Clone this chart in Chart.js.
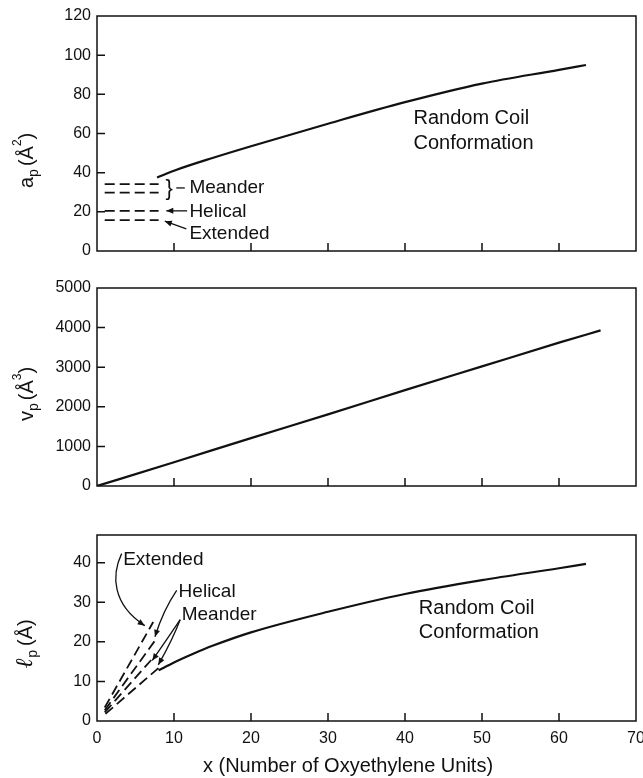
<!DOCTYPE html>
<html>
<head>
<meta charset="utf-8">
<script src="https://cdn.jsdelivr.net/npm/chart.js"></script>
<style>
body { margin: 0; background: #fff; }
canvas { position: absolute; left: 0; }
</style>
</head>
<body>
<canvas id="areaChart" width="643" height="270" style="top:0px"></canvas>
<canvas id="volChart" width="643" height="230" style="top:270px"></canvas>
<canvas id="lenChart" width="643" height="278" style="top:500px"></canvas>
<script>
// x = number of oxyethylene units
const areaX = [7.8, 10, 15, 20, 30, 40, 50, 60, 63.5];
const areaY = [37.5, 41, 47.5, 53.5, 65, 76, 85.5, 92.5, 95];

// short-chain conformations (top panel, horizontal dashes)
const shortX = [1, 8];
const meanderHiA = [34.2, 34.2];
const meanderLoA = [29.8, 29.8];
const helicalA = [20.5, 20.5];
const extendedA = [15.8, 15.8];

const volX = [0, 10, 20, 30, 40, 50, 60, 65.4];
const volY = [0, 600, 1210, 1810, 2420, 3020, 3620, 3930];

const lenX = [8, 10, 12.5, 15, 20, 30, 40, 50, 60, 63.5];
const lenY = [12.8, 14.8, 17, 19, 22.4, 27.6, 32.1, 35.6, 38.6, 39.7];

// bottom panel dashed lines
const extendedLX = [1.0, 7.3], extendedL = [3.4, 25.0];
const helicalLX = [1.0, 7.6], helicalL = [2.7, 20.5];
const meanderHiLX = [1.0, 7.4], meanderHiL = [2.2, 16.2];
const meanderLoLX = [1.1, 8.0], meanderLoL = [1.8, 13.4];

const xTicks = [0, 10, 20, 30, 40, 50, 60, 70];

const ink = '#111';
const family = '"Liberation Sans", Arial, sans-serif';
const tickFont = { family: family, size: 16 };
const noteFont = '19px ' + family;
const bigFont = '20px ' + family;

function pts(xs, ys) {
    return xs.map(function (x, i) { return { x: x, y: ys[i] }; });
}

function curve(xs, ys) {
    return { data: pts(xs, ys), showLine: true, borderColor: ink, borderWidth: 2.2,
        pointRadius: 0, cubicInterpolationMode: 'monotone' };
}

function dashed(xs, ys) {
    return { data: pts(xs, ys), showLine: true, borderColor: ink, borderWidth: 1.8,
        borderDash: [10, 5], pointRadius: 0 };
}

function makeScales(yMax, yStep, showX, xHeight) {
    return {
        x: {
            type: 'linear', min: xTicks[0], max: xTicks[xTicks.length - 1],
            ticks: { stepSize: 10, display: showX, font: tickFont, color: ink, padding: 8, maxRotation: 0,
                callback: function (v) { return String(v); } },
            grid: { display: false, drawTicks: false },
            border: { display: false },
            afterFit: function (s) { s.height = xHeight; s.paddingLeft = 0; s.paddingRight = 0; }
        },
        y: {
            min: 0, max: yMax,
            ticks: { stepSize: yStep, includeBounds: false, font: tickFont, color: ink, padding: 6,
                callback: function (v) { return String(v); } },
            grid: { display: false, drawTicks: false },
            border: { display: false },
            afterFit: function (s) { s.width = 97; s.paddingTop = 0; s.paddingBottom = 0; }
        }
    };
}

// box round the plot and inward tick marks
const frame = {
    id: 'frame',
    afterDatasetsDraw: function (chart) {
        const ctx = chart.ctx, a = chart.chartArea, x = chart.scales.x, y = chart.scales.y;
        ctx.save();
        ctx.strokeStyle = ink;
        ctx.lineWidth = 1.5;
        ctx.strokeRect(a.left, a.top, a.right - a.left, a.bottom - a.top);
        ctx.beginPath();
        x.ticks.forEach(function (t) {
            if (t.value > x.min && t.value < x.max) {
                const px = x.getPixelForValue(t.value);
                ctx.moveTo(px, a.bottom);
                ctx.lineTo(px, a.bottom - 8);
            }
        });
        y.ticks.forEach(function (t) {
            if (t.value > y.min && t.value < y.max) {
                const py = y.getPixelForValue(t.value);
                ctx.moveTo(a.left, py);
                ctx.lineTo(a.left + 8, py);
            }
        });
        ctx.stroke();
        ctx.restore();
    }
};

function drawYTitle(ctx, t) {
    ctx.save();
    ctx.translate(t.x, t.y);
    ctx.rotate(-Math.PI / 2);
    ctx.textAlign = 'left';
    ctx.textBaseline = 'alphabetic';
    let cx = 0;
    t.parts.forEach(function (p) {
        ctx.font = p.font || ('20px ' + family);
        ctx.fillText(p.s, cx, p.dy || 0);
        cx += ctx.measureText(p.s).width + (p.gap || 0);
    });
    ctx.restore();
}

function arrowHead(ctx, fx, fy, tx, ty) {
    const ang = Math.atan2(ty - fy, tx - fx), len = 7, w = 3;
    ctx.beginPath();
    ctx.moveTo(tx, ty);
    ctx.lineTo(tx - len * Math.cos(ang) + w * Math.sin(ang), ty - len * Math.sin(ang) - w * Math.cos(ang));
    ctx.lineTo(tx - len * Math.cos(ang) - w * Math.sin(ang), ty - len * Math.sin(ang) + w * Math.cos(ang));
    ctx.closePath();
    ctx.fill();
}

function notes(cfg) {
    return {
        id: 'notes',
        afterDraw: function (chart) {
            const ctx = chart.ctx, x = chart.scales.x, y = chart.scales.y;
            const X = function (v) { return x.getPixelForValue(v); };
            const Y = function (v) { return y.getPixelForValue(v); };
            ctx.save();
            ctx.fillStyle = ink;
            ctx.strokeStyle = ink;
            ctx.lineWidth = 1.3;
            (cfg.texts || []).forEach(function (t) {
                ctx.font = t.font || noteFont;
                ctx.textAlign = 'left';
                ctx.textBaseline = 'middle';
                ctx.fillText(t.s, X(t.x), Y(t.y));
            });
            (cfg.arrows || []).forEach(function (a) {
                const p = a.pts.map(function (q) { return [X(q[0]), Y(q[1])]; });
                ctx.beginPath();
                ctx.moveTo(p[0][0], p[0][1]);
                if (p.length === 2) ctx.lineTo(p[1][0], p[1][1]);
                else if (p.length === 3) ctx.quadraticCurveTo(p[1][0], p[1][1], p[2][0], p[2][1]);
                else ctx.bezierCurveTo(p[1][0], p[1][1], p[2][0], p[2][1], p[3][0], p[3][1]);
                ctx.stroke();
                if (a.head !== false) {
                    const n = p.length;
                    arrowHead(ctx, p[n - 2][0], p[n - 2][1], p[n - 1][0], p[n - 1][1]);
                }
            });
            if (cfg.ytitle) drawYTitle(ctx, cfg.ytitle);
            if (cfg.xtitle) {
                ctx.font = bigFont;
                ctx.textAlign = 'center';
                ctx.textBaseline = 'alphabetic';
                ctx.fillText(cfg.xtitle.s, cfg.xtitle.x, cfg.xtitle.y);
            }
            ctx.restore();
        }
    };
}

const sub = '14px ' + family, sup = '12px ' + family;

new Chart(document.getElementById('areaChart'), {
    type: 'scatter',
    data: { datasets: [
        curve(areaX, areaY),
        dashed(shortX, meanderHiA), dashed(shortX, meanderLoA),
        dashed(shortX, helicalA), dashed(shortX, extendedA)
    ] },
    options: {
        responsive: false, animation: false, events: [],
        layout: { padding: { top: 16, right: 7, left: 0, bottom: 0 } },
        plugins: { legend: { display: false }, tooltip: { enabled: false } },
        scales: makeScales(120, 20, false, 19)
    },
    plugins: [frame, notes({
        texts: [
            { s: '}', x: 8.9, y: 31.9, font: '22px ' + family },
            { s: 'Meander', x: 12.0, y: 32.2 },
            { s: 'Helical', x: 12.0, y: 19.8 },
            { s: 'Extended', x: 12.0, y: 8.6 },
            { s: 'Random Coil', x: 41.1, y: 67.5, font: bigFont },
            { s: 'Conformation', x: 41.1, y: 54.7, font: bigFont }
        ],
        arrows: [
            { pts: [[10.3, 32.2], [11.4, 32.2]], head: false },
            { pts: [[11.7, 20.5], [9.0, 20.5]] },
            { pts: [[11.6, 11.3], [8.8, 15.2]] }
        ],
        ytitle: { x: 33, y: 188, parts: [
            { s: 'a' }, { s: 'p', font: sub, dy: 5, gap: 3 }, { s: '(' }, { s: 'Å' },
            { s: '2', font: sup, dy: -12 }, { s: ')' }
        ] }
    })]
});

new Chart(document.getElementById('volChart'), {
    type: 'scatter',
    data: { datasets: [curve(volX, volY)] },
    options: {
        responsive: false, animation: false, events: [],
        layout: { padding: { top: 18, right: 7, left: 0, bottom: 0 } },
        plugins: { legend: { display: false }, tooltip: { enabled: false } },
        scales: makeScales(5000, 1000, false, 14)
    },
    plugins: [frame, notes({
        ytitle: { x: 33, y: 151, parts: [
            { s: 'v' }, { s: 'p', font: sub, dy: 5, gap: 3 }, { s: '(' }, { s: 'Å' },
            { s: '3', font: sup, dy: -12 }, { s: ')' }
        ] }
    })]
});

new Chart(document.getElementById('lenChart'), {
    type: 'scatter',
    data: { datasets: [
        curve(lenX, lenY),
        dashed(extendedLX, extendedL), dashed(helicalLX, helicalL),
        dashed(meanderHiLX, meanderHiL), dashed(meanderLoLX, meanderLoL)
    ] },
    options: {
        responsive: false, animation: false, events: [],
        layout: { padding: { top: 35, right: 7, left: 0, bottom: 0 } },
        plugins: { legend: { display: false }, tooltip: { enabled: false } },
        scales: makeScales(47, 10, true, 57)
    },
    plugins: [frame, notes({
        texts: [
            { s: 'Extended', x: 3.4, y: 40.8 },
            { s: 'Helical', x: 10.6, y: 32.7 },
            { s: 'Meander', x: 11.0, y: 26.8 },
            { s: 'Random Coil', x: 41.8, y: 28.4, font: bigFont },
            { s: 'Conformation', x: 41.8, y: 22.4, font: bigFont }
        ],
        arrows: [
            { pts: [[3.2, 42.3], [1.9, 37], [1.9, 29.5], [6.2, 24.1]] },
            { pts: [[10.35, 33.0], [8.6, 28.0], [7.53, 21.3]] },
            { pts: [[10.8, 25.6], [9.5, 21.8], [7.18, 15.3]] },
            { pts: [[10.8, 25.6], [9.8, 20.5], [7.96, 14.2]] }
        ],
        ytitle: { x: 32, y: 168, parts: [
            { s: 'ℓ', font: 'italic bold 24px "DejaVu Serif", serif' },
            { s: 'p', font: sub, dy: 5, gap: 4 }, { s: '(' }, { s: 'Å' }, { s: ')' }
        ] },
        xtitle: { s: 'x (Number of Oxyethylene Units)', x: 348, y: 272 }
    })]
});
</script>
</body>
</html>
